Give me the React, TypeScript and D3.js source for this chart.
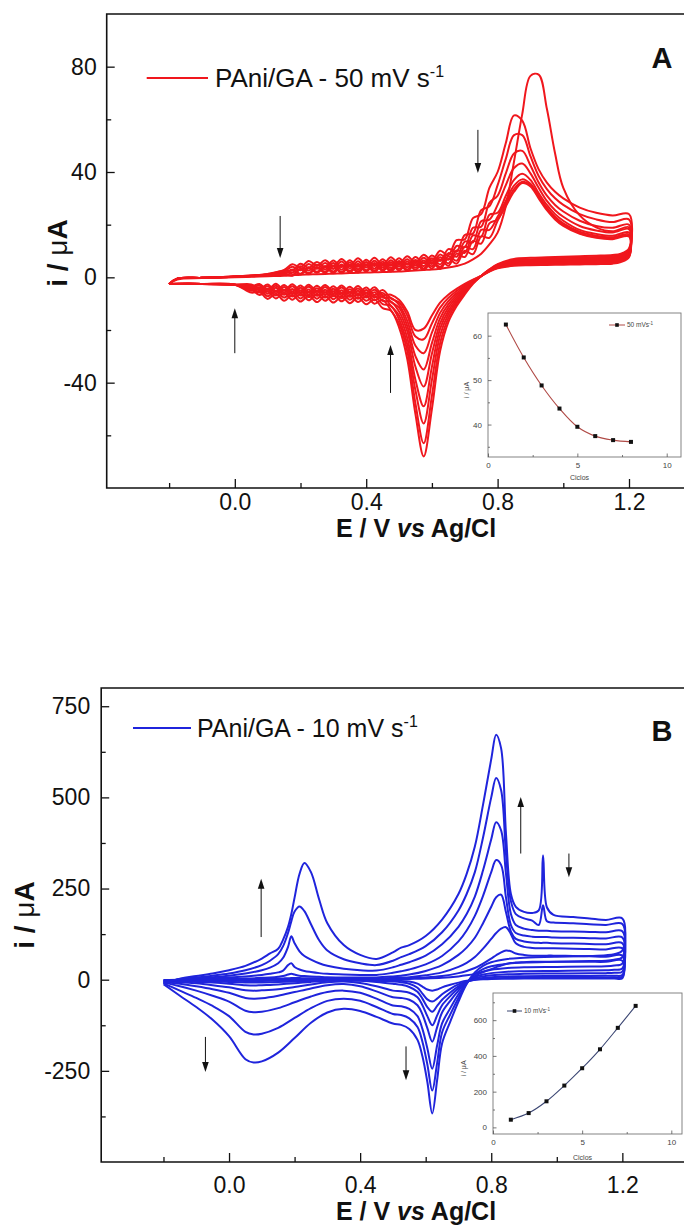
import React, { useEffect, useRef } from 'react'
import * as d3 from 'd3'

const FONT = "'Liberation Sans', Arial, Helvetica, sans-serif"
const RED = '#f0171d'
const BLUE = '#1f24dc'

// ---------------- Panel A : PAni/GA - 50 mV s-1 (9 cycles) ----------------
const potentialFwdA = [-0.2, -0.175, -0.1, 0.0, 0.05, 0.1, 0.15,
  0.175, 0.2, 0.225, 0.25, 0.275, 0.3, 0.325, 0.35, 0.375, 0.4, 0.425, 0.45, 0.475, 0.5, 0.525, 0.55, 0.575, 0.6, 0.625, 0.65, 0.675, 0.7, 0.725, 0.75, 0.775,
  0.8, 0.825, 0.85, 0.875, 0.9, 0.925, 0.95, 0.975, 1.0,
  1.05, 1.1, 1.15, 1.2]
const potentialRevA = [1.2, 1.175, 1.15, 1.1, 1.05, 1.0, 0.95, 0.9, 0.85, 0.8, 0.775, 0.75, 0.725, 0.7, 0.675, 0.65, 0.625, 0.6, 0.575, 0.55, 0.525, 0.5,
  0.475, 0.45, 0.425, 0.4, 0.375, 0.35, 0.325, 0.3, 0.275, 0.25, 0.225, 0.2, 0.175, 0.15, 0.125, 0.1, 0.075, 0.05,
  0.0, -0.1, -0.2]

const anodicA1 = [-2.5, -0.8, -0.3, 0.0, 0.2, 0.4, 0.6,
  0.8, 1.0, 1.1, 1.2, 1.3, 1.4, 1.5, 1.6, 1.7, 1.8, 1.9, 2.0, 2.1, 2.2, 2.4, 2.6, 2.8, 3.0, 3.3, 3.7, 4.3, 5.2, 6.8, 9.0, 12.5,
  17, 27, 44, 62, 76.5, 77, 64, 47, 34,
  23.5, 19, 17.5, 19]
const anodicA2 = [-2.5, -0.5, -0.2, 0.3, 0.7, 1.3, 2.8,
  5.0, 3.8, 6.2, 4.4, 6.5, 4.3, 7.0, 4.5, 7.2, 4.7, 7.4, 4.8, 7.6, 5.2, 8.0, 5.7, 8.6, 6.4, 10.1, 8.4, 14.1, 14.4, 22.5, 24, 34,
  40, 51, 61.5, 59.5, 49, 41, 36, 32.5, 30,
  26.5, 24.5, 23.5, 24]
const anodicA3 = [-2.5, -0.5, -0.2, 0.3, 0.7, 1.2, 2.5,
  2.6, 5.2, 3.6, 5.8, 3.9, 6.4, 3.9, 6.5, 4.0, 6.7, 4.3, 6.9, 4.4, 7.2, 4.8, 7.7, 5.4, 8.3, 6.2, 10.7, 9.8, 16.1, 16.6, 25.5, 27,
  35, 45, 54, 54, 46, 38.5, 33.5, 30, 27.5,
  24, 22, 21, 22]
const anodicA4 = [-2.5, -0.5, -0.2, 0.3, 0.6, 1.1, 2.2,
  4.0, 2.7, 5.1, 3.3, 5.4, 3.2, 6.0, 3.4, 6.1, 3.7, 6.3, 3.8, 6.5, 4.1, 6.9, 4.5, 7.4, 5.1, 8.7, 6.7, 11.9, 11.5, 18.8, 19.2, 28.3,
  31, 39.5, 47, 48, 42.5, 36, 31, 27.5, 25,
  21.5, 19.5, 18.8, 20]
const anodicA5 = [-2.5, -0.5, -0.2, 0.2, 0.6, 1.0, 1.9,
  1.7, 4.2, 2.6, 4.8, 3.0, 5.4, 2.9, 5.6, 3.1, 5.8, 3.3, 5.9, 3.5, 6.2, 3.8, 6.6, 4.3, 7.2, 4.9, 9.2, 7.8, 13.6, 13.3, 21.3, 21.9,
  27.5, 35, 41.5, 43.2, 39.5, 34, 29, 25.5, 23,
  19.5, 17.8, 17, 18.3]
const anodicA6 = [-2.5, -0.5, -0.2, 0.2, 0.5, 0.9, 1.5,
  3.0, 1.4, 3.8, 2.1, 4.3, 2.2, 4.9, 2.4, 5.2, 2.7, 5.4, 3.0, 5.7, 3.2, 6.0, 3.6, 6.4, 4.2, 7.6, 5.3, 10.2, 9.3, 15.9, 15.5, 23.8,
  24.5, 31, 37, 39.3, 37, 32, 27.5, 24, 21.5,
  18, 16.5, 15.8, 17]
const anodicA7 = [-2.5, -0.5, -0.2, 0.2, 0.5, 0.9, 1.4,
  0.8, 3.3, 1.6, 3.9, 2.1, 4.5, 2.0, 4.8, 2.3, 5.0, 2.5, 5.2, 2.8, 5.5, 3.0, 5.8, 3.4, 6.4, 3.9, 8.0, 6.3, 11.6, 10.7, 18, 18,
  23, 29, 34.8, 37.2, 35.5, 31, 26.5, 23, 20.5,
  17.3, 15.8, 15.2, 16.3]
const anodicA8 = [-2.5, -0.5, -0.2, 0.2, 0.5, 0.8, 1.3,
  2.7, 1.1, 3.5, 1.7, 3.9, 1.7, 4.4, 1.9, 4.6, 2.2, 4.9, 2.4, 5.1, 2.6, 5.3, 2.9, 5.7, 3.4, 6.8, 4.4, 9.0, 7.7, 13.8, 12.8, 20.5,
  22, 28, 33.5, 36.3, 35, 30.5, 26, 22.5, 20,
  16.8, 15.3, 14.8, 15.8]
const anodicA9 = [-2.5, -0.5, -0.2, 0.2, 0.4, 0.8, 1.2,
  0.6, 3.0, 1.3, 3.5, 1.7, 4.1, 1.6, 4.3, 1.8, 4.5, 2.0, 4.7, 2.2, 4.9, 2.4, 5.2, 2.8, 5.7, 3.2, 7.1, 5.2, 10.1, 8.8, 15.5, 15,
  21.5, 27, 32.5, 35.8, 34.5, 30, 25.5, 22, 19.5,
  16.5, 15, 14.5, 15.5]

const cathodicA1 = [11, 9, 8.5, 8.2, 8.0, 7.8, 7.6, 7.4, 7.0, 5.0, 3.0, 0.5, -2.5, -6.5, -11, -17, -28, -50, -68, -52, -31, -19,
  -12.6, -11.7, -8.3, -10.2, -7.6, -9.8, -7.3, -9.6, -7.1, -9.4, -6.9, -9.2, -6.7, -8.9, -6.2, -8.2, -5.5, -5.8,
  -2.8, -2.5, -2.5]
const cathodicA2 = [10.5, 8.5, 8.0, 7.7, 7.5, 7.3, 7.1, 6.9, 6.6, 4.8, 2.9, 0.5, -2.3, -6, -10, -15.5, -25, -45, -63, -48, -28, -17.5,
  -12.5, -8.6, -10.0, -7.2, -9.4, -6.8, -9.1, -6.6, -8.9, -6.4, -8.7, -6.2, -8.5, -5.9, -8.0, -5.3, -6.7, -4.5,
  -2.8, -2.5, -2.5]
const cathodicA3 = [10, 8.2, 7.6, 7.3, 7.1, 6.9, 6.7, 6.5, 6.2, 4.6, 2.8, 0.5, -2.1, -5.5, -9.2, -14, -22, -39, -55.5, -43, -25.5, -16,
  -10.8, -10.2, -7.0, -8.9, -6.3, -8.5, -6.0, -8.3, -5.8, -8.1, -5.7, -8.0, -5.5, -7.7, -5.1, -7.2, -4.6, -5.1,
  -2.8, -2.5, -2.5]
const cathodicA4 = [9.6, 7.8, 7.2, 6.9, 6.7, 6.5, 6.3, 6.2, 5.9, 4.4, 2.7, 0.5, -1.9, -5, -8.4, -12.8, -19.5, -34, -49, -39, -23, -14.5,
  -10.8, -7.1, -8.7, -5.9, -8.1, -5.6, -7.9, -5.4, -7.7, -5.2, -7.5, -5.0, -7.3, -4.7, -6.9, -4.3, -5.8, -3.8,
  -2.8, -2.5, -2.5]
const cathodicA5 = [9.2, 7.4, 6.8, 6.5, 6.3, 6.1, 6.0, 5.9, 5.6, 4.2, 2.6, 0.5, -1.7, -4.5, -7.6, -11.5, -17.5, -29, -41.5, -34, -20.5, -13,
  -9.2, -8.9, -5.7, -7.7, -5.1, -7.4, -4.9, -7.2, -4.7, -7.0, -4.6, -6.9, -4.4, -6.6, -4.0, -6.2, -3.8, -4.5,
  -2.8, -2.5, -2.5]
const cathodicA6 = [8.8, 7.0, 6.4, 6.1, 5.9, 5.8, 5.7, 5.6, 5.3, 4.0, 2.5, 0.5, -1.5, -4.0, -6.8, -10.3, -15.5, -25, -35, -30, -18.5, -11.5,
  -9.3, -5.9, -7.6, -4.8, -7.0, -4.5, -6.8, -4.3, -6.6, -4.1, -6.5, -4.0, -6.3, -3.7, -6.0, -3.4, -5.0, -3.2,
  -2.8, -2.5, -2.5]
const cathodicA7 = [8.4, 6.6, 6.0, 5.8, 5.6, 5.5, 5.4, 5.3, 5.0, 3.8, 2.4, 0.5, -1.3, -3.5, -6.0, -9.0, -13.5, -21, -28.8, -26, -16.5, -10.5,
  -7.8, -7.7, -4.7, -6.8, -4.2, -6.4, -3.9, -6.2, -3.7, -6.0, -3.6, -5.9, -3.4, -5.7, -3.2, -5.4, -3.1, -4.0,
  -2.8, -2.5, -2.5]
const cathodicA8 = [8.0, 6.2, 5.6, 5.4, 5.3, 5.2, 5.1, 5.0, 4.7, 3.6, 2.3, 0.5, -1.1, -3.0, -5.2, -7.8, -11.5, -17.5, -23.5, -22.5, -14.5, -9.5,
  -8.0, -4.8, -6.7, -3.9, -6.1, -3.6, -5.9, -3.4, -5.7, -3.2, -5.6, -3.1, -5.4, -2.9, -5.2, -2.7, -4.4, -2.7,
  -2.8, -2.5, -2.5]
const cathodicA9 = [7.6, 5.8, 5.2, 5.0, 4.9, 4.8, 4.7, 4.6, 4.4, 3.4, 2.2, 0.5, -0.9, -2.5, -4.4, -6.6, -9.6, -14.5, -19.5, -20, -13, -8.5,
  -6.6, -6.7, -3.8, -5.9, -3.3, -5.6, -3.1, -5.4, -2.9, -5.2, -2.8, -5.1, -2.6, -4.9, -2.4, -4.7, -2.5, -3.5,
  -2.8, -2.5, -2.5]

const insetCyclesA = [1, 2, 3, 4, 5, 6, 7, 8]
const insetCurrentA = [62.5, 55.1, 48.8, 43.6, 39.5, 37.4, 36.5, 36.1]

// ---------------- Panel B : PAni/GA - 10 mV s-1 (8 cycles) ----------------
const potentialFwdB = [-0.2, -0.15, -0.1, -0.05, 0.0, 0.05, 0.1, 0.125, 0.15, 0.165, 0.18, 0.19, 0.2, 0.215, 0.23, 0.25, 0.275, 0.3,
  0.35, 0.4, 0.45, 0.5, 0.525, 0.55, 0.6, 0.65, 0.7, 0.725, 0.75, 0.775, 0.8, 0.815, 0.83, 0.845, 0.86, 0.875, 0.9, 0.925,
  0.945, 0.958, 0.97, 0.99, 1.05, 1.1, 1.15, 1.2]
const potentialRevB = [1.2, 1.175, 1.15, 1.1, 1.0, 0.9, 0.85, 0.8, 0.775, 0.75, 0.725, 0.7, 0.675, 0.65, 0.635, 0.62, 0.605, 0.59,
  0.575, 0.55, 0.525, 0.5, 0.45, 0.4, 0.35, 0.3, 0.25, 0.2, 0.15, 0.1, 0.075, 0.05, 0.0, -0.05, -0.1, -0.15, -0.2]

const anodicB1 = [-1, 0, 0, 0, 0, 0.5, 0.5, 0.5, 0.5, 1, 1, 1, 1, 1, 1, 1, 1, 1,
  1, 1, 1, 1.5, 1.5, 2, 3, 5, 9, 12, 16, 22, 29, 34, 39, 43, 46, 47, 48, 49,
  49, 49, 49, 49, 49, 49, 49, 52]
const anodicB2 = [-2, -0.5, 0, 0, 0.5, 1, 1, 1.5, 1.5, 2, 2, 2, 2, 2, 2, 2, 2, 2,
  2, 2, 2, 3, 3.5, 4, 6, 10, 18, 24, 32, 44, 58, 67, 75, 80, 78, 72, 68, 66,
  66, 66, 66, 66, 65, 64, 63, 66]
const anodicB3 = [-3, -1, -0.5, 0, 1, 1.5, 2, 2.5, 3, 3.5, 4, 4.5, 4.5, 4.5, 4, 4, 4, 3.5,
  3.5, 3.5, 3.5, 5, 6, 7, 12, 20, 35, 46, 62, 85, 112, 128, 140, 144, 125, 100, 90, 87,
  86, 86, 86, 86, 85, 84, 83, 86]
const anodicB4 = [-4, -1, 0, 1, 2, 3, 5, 6, 8, 10, 14, 16, 14, 11, 10, 9, 8, 7,
  6, 6, 6, 9, 11, 14, 24, 40, 68, 88, 115, 155, 200, 226, 233, 185, 132, 112, 105, 102,
  101, 101, 101, 100, 99, 98, 97, 100]
const anodicB5 = [-6, 0, 2, 4, 6, 9, 13, 16, 20, 25, 40, 45, 35, 28, 24, 21, 18, 16,
  14, 13, 13, 19, 23, 28, 42, 65, 105, 135, 175, 230, 295, 328, 315, 225, 150, 128, 121, 118,
  117, 117, 117, 116, 115, 114, 113, 116]
const anodicB6 = [-8, 1, 4, 7, 11, 17, 26, 33, 45, 60, 90, 119, 100, 78, 65, 55, 45, 38,
  30, 26, 25, 34, 41, 48, 66, 97, 145, 180, 228, 300, 385, 432, 410, 290, 180, 150, 140, 136,
  134, 134, 134, 133, 132, 131, 130, 133]
const anodicB7 = [-10, 2, 6, 11, 17, 26, 40, 52, 70, 92, 128, 160, 187, 201, 188, 152, 108, 80,
  56, 45, 40, 52, 62, 70, 92, 130, 190, 235, 295, 390, 500, 553, 520, 345, 215, 180, 168, 162,
  150, 204, 160, 157, 155, 152, 150, 153]
const anodicB8 = [-12, 3, 10, 17, 26, 38, 58, 72, 85, 110, 145, 180, 225, 290, 320, 295, 220, 155,
  95, 68, 57, 75, 88, 95, 120, 165, 235, 290, 365, 480, 605, 672, 635, 400, 235, 200, 186, 183,
  190, 341, 198, 178, 172, 168, 164, 168]

const cathodicB1 = [4, 3, 3, 3, 3, 3, 2.5, 2, 1, -0.5, -3, -8, -14, -21, -27, -30, -27, -19,
  -11, -5, -3, -2, -1.5, -1, -1, -1, -1.5, -2.5, -3, -3.5, -4, -3.5, -3, -2.5, -2, -1.5, -1]
const cathodicB2 = [8, 6.5, 6, 6, 6, 5.5, 5, 4, 2.5, 0, -5, -13, -25, -40, -52, -60, -54, -38,
  -22, -11, -7, -5, -3, -2, -1.5, -2, -3, -5, -6.5, -7.5, -8, -7.5, -6, -4.5, -3.5, -2.5, -2]
const cathodicB3 = [13, 11, 10.5, 10, 10, 9.5, 9, 7, 5, 1, -6, -18, -35, -55, -72, -88, -75, -52,
  -33, -20, -14, -11, -6, -3, -2, -3, -6, -10, -13, -15, -16, -15, -11, -8, -6, -4, -3]
const cathodicB4 = [22, 19, 18, 17.5, 17, 16, 15, 12, 9, 4, -6, -23, -45, -70, -98, -125, -100, -70,
  -48, -36, -32, -30, -18, -9, -5, -7, -13, -20, -26, -29, -30, -29, -21, -15, -10, -7, -4]
const cathodicB5 = [31, 27, 26, 25, 24, 23, 22, 18, 14, 7, -6, -30, -58, -90, -130, -170, -133, -95,
  -70, -55, -50, -48, -32, -18, -12, -15, -24, -34, -44, -51, -52, -50, -36, -26, -18, -11, -6]
const cathodicB6 = [44, 39, 37, 36, 35, 34, 32, 27, 21, 10, -8, -40, -78, -120, -180, -244, -188, -135,
  -100, -80, -73, -71, -52, -36, -30, -34, -46, -62, -78, -88, -89, -85, -60, -44, -30, -18, -8]
const cathodicB7 = [62, 55, 52, 51, 49, 47, 44, 37, 29, 15, -10, -50, -95, -145, -228, -304, -232, -170,
  -130, -106, -97, -94, -75, -58, -52, -58, -78, -105, -132, -148, -150, -143, -100, -72, -50, -30, -10]
const cathodicB8 = [80, 70, 67, 65, 63, 60, 57, 48, 38, 20, -12, -60, -115, -175, -275, -367, -280, -210,
  -165, -135, -124, -120, -102, -86, -80, -90, -118, -160, -200, -224, -227, -218, -155, -110, -75, -44, -12]

const insetCyclesB = [1, 2, 3, 4, 5, 6, 7, 8]
const insetCurrentB = [43, 80, 146, 234, 331, 437, 557, 680]

// ---------------- ticks ----------------
const potentialTicks = [0, 0.4, 0.8, 1.2]
const potentialMinorTicks = [-0.2, 0.2, 0.6, 1.0]
const currentTicksA = [-40, 0, 40, 80]
const currentMinorTicksA = [-60, -20, 20, 60]
const currentTicksB = [-250, 0, 250, 500, 750]
const currentMinorTicksB = [-375, -125, 125, 375, 625]
const cycleTicks = [0, 5, 10]
const cycleMinorTicks = [2.5, 7.5]
const insetTicksA = [40, 50, 60]
const insetMinorTicksA = [35, 45, 55]
const insetTicksB = [0, 200, 400, 600]
const insetMinorTicksB = [100, 300, 500, 700]

// arrows: [E, from i, to i]
const arrowsA = [[0.74, 56, 39.6], [0.138, 23.3, 7.3], [0.0, -28.8, -11.7], [0.474, -43.9, -25.7]]
const arrowsB = [[0.098, 117, 277], [0.89, 346, 501], [1.037, 346, 281], [-0.072, -157, -253], [0.54, -183, -276]]

const panelA = {
  left: 106.7, right: 694.7, top: 14, bottom: 488,
  xDomain: [-0.39, 1.4], yDomain: [-80, 100],
  fwd: potentialFwdA, rev: potentialRevA,
  anodic: [anodicA1, anodicA2, anodicA3, anodicA4, anodicA5, anodicA6, anodicA7, anodicA8, anodicA9],
  cathodic: [cathodicA1, cathodicA2, cathodicA3, cathodicA4, cathodicA5, cathodicA6, cathodicA7, cathodicA8, cathodicA9],
  color: RED, yTicks: currentTicksA, yMinor: currentMinorTicksA, yPad: 10, xPad: 6,
  legend: { y: 78, x1: 146.7, x2: 208, tx: 215, text: 'PAni/GA - 50 mV s', size: 26 },
  letter: { text: 'A', x: 662, y: 68 },
  yTitle: { x: 57, y: 253 }, xTitle: { x: 416, y: 537 },
  arrows: arrowsA,
  inset: {
    left: 488, right: 681, top: 313, bottom: 457, xDomain: [0, 10.8], yDomain: [32.7, 65.1],
    xs: insetCyclesA, ys: insetCurrentA, yTicks: insetTicksA, yMinor: insetMinorTicksA,
    color: '#b04a46', legend: { x1: 609, x2: 625, y: 325, text: '50 mVs' },
    yTitleX: 469, cyclosY: 479.5
  }
}

const panelB = {
  left: 101.2, right: 687.9, top: 688, bottom: 1162,
  xDomain: [-0.39, 1.4], yDomain: [-500, 800],
  fwd: potentialFwdB, rev: potentialRevB,
  anodic: [anodicB1, anodicB2, anodicB3, anodicB4, anodicB5, anodicB6, anodicB7, anodicB8],
  cathodic: [cathodicB1, cathodicB2, cathodicB3, cathodicB4, cathodicB5, cathodicB6, cathodicB7, cathodicB8],
  color: BLUE, yTicks: currentTicksB, yMinor: currentMinorTicksB, yPad: 11, xPad: 15,
  legend: { y: 728, x1: 133, x2: 191, tx: 197, text: 'PAni/GA - 10 mV s', size: 25 },
  letter: { text: 'B', x: 662, y: 741 },
  yTitle: { x: 24, y: 915 }, xTitle: { x: 416, y: 1220 },
  arrows: arrowsB,
  inset: {
    left: 493, right: 682, top: 993, bottom: 1134, xDomain: [0, 10.6], yDomain: [-37, 752],
    xs: insetCyclesB, ys: insetCurrentB, yTicks: insetTicksB, yMinor: insetMinorTicksB,
    color: '#3b4673', legend: { x1: 507, x2: 522, y: 1011, text: '10 mVs' },
    yTitleX: 466, cyclosY: 1160
  }
}

function styleAxis(sel, size) {
  sel.select('.domain').remove()
  sel.selectAll('line').attr('stroke', '#111').attr('stroke-width', 1.3)
  sel.selectAll('text').attr('font-family', FONT).attr('font-size', size).attr('fill', '#111')
}

function drawInset(g, s) {
  const x = d3.scaleLinear().domain(s.xDomain).range([s.left, s.right])
  const y = d3.scaleLinear().domain(s.yDomain).range([s.bottom, s.top])
  g.append('rect').attr('x', s.left).attr('y', s.top).attr('width', s.right - s.left).attr('height', s.bottom - s.top)
    .attr('fill', 'white').attr('stroke', '#777').attr('stroke-width', 0.9)

  const bx = g.append('g').attr('transform', `translate(0,${s.bottom})`)
  bx.call(d3.axisBottom(x).tickValues(cycleMinorTicks).tickSize(-2).tickFormat(() => ''))
  styleAxis(bx, 8)
  const bx2 = g.append('g').attr('transform', `translate(0,${s.bottom})`)
  bx2.call(d3.axisBottom(x).tickValues(cycleTicks).tickSize(-3.5).tickPadding(5).tickFormat(d => String(d)))
  styleAxis(bx2, 8)
  const ly = g.append('g').attr('transform', `translate(${s.left},0)`)
  ly.call(d3.axisLeft(y).tickValues(s.yMinor).tickSize(-2).tickFormat(() => ''))
  styleAxis(ly, 8)
  const ly2 = g.append('g').attr('transform', `translate(${s.left},0)`)
  ly2.call(d3.axisLeft(y).tickValues(s.yTicks).tickSize(-3.5).tickPadding(6).tickFormat(d => String(d)))
  styleAxis(ly2, 8)
  g.selectAll('line').attr('stroke-width', 0.8).attr('stroke', '#555')
  g.selectAll('text').attr('fill', '#444')

  const pts = s.xs.map((c, k) => [c, s.ys[k]])
  const line = d3.line().x(d => x(d[0])).y(d => y(d[1])).curve(d3.curveCatmullRom)
  g.append('path').attr('d', line(pts)).attr('fill', 'none').attr('stroke', s.color).attr('stroke-width', 1.1)
  g.selectAll('.mk').data(pts).join('rect').attr('class', 'mk')
    .attr('x', d => x(d[0]) - 2).attr('y', d => y(d[1]) - 2).attr('width', 4).attr('height', 4).attr('fill', '#111')

  // legend
  g.append('line').attr('x1', s.legend.x1).attr('x2', s.legend.x2).attr('y1', s.legend.y).attr('y2', s.legend.y)
    .attr('stroke', s.color).attr('stroke-width', 1)
  g.append('rect').attr('x', (s.legend.x1 + s.legend.x2) / 2 - 1.8).attr('y', s.legend.y - 1.8).attr('width', 3.6).attr('height', 3.6).attr('fill', '#111')
  const lt = g.append('text').attr('x', s.legend.x2 + 2).attr('y', s.legend.y + 2.3)
    .attr('font-family', FONT).attr('font-size', 6.5).attr('fill', '#444').text(s.legend.text)
  lt.append('tspan').attr('dy', -2.5).attr('font-size', 4.5).text('-1')

  g.append('text').attr('x', (s.left + s.right) / 2 - 5).attr('y', s.cyclosY).attr('text-anchor', 'middle')
    .attr('font-family', FONT).attr('font-size', 7).attr('fill', '#444').text('Ciclos')
  g.append('text').attr('transform', `translate(${s.yTitleX},${(s.top + s.bottom) / 2 + 5}) rotate(-90)`)
    .attr('text-anchor', 'middle').attr('font-family', FONT).attr('font-size', 7).attr('fill', '#444').text('i / μA')
}

function drawPanel(svg, p) {
  const g = svg.append('g')
  const x = d3.scaleLinear().domain(p.xDomain).range([p.left, p.right])
  const y = d3.scaleLinear().domain(p.yDomain).range([p.bottom, p.top])

  // CV cycles: forward (anodic) sweep followed by the reverse (cathodic) sweep
  const line = d3.line().x(d => x(d[0])).y(d => y(d[1])).curve(d3.curveCatmullRom.alpha(0.5))
  p.anodic.forEach((an, k) => {
    const pts = an.map((v, j) => [p.fwd[j], v]).concat(p.cathodic[k].map((v, j) => [p.rev[j], v]))
    g.append('path').attr('d', line(pts)).attr('fill', 'none').attr('stroke', p.color)
      .attr('stroke-width', 2).attr('stroke-linejoin', 'round')
  })

  // frame (the right edge falls outside the picture)
  g.append('path').attr('d', `M${p.right},${p.top}H${p.left}V${p.bottom}H${p.right}`)
    .attr('fill', 'none').attr('stroke', '#111').attr('stroke-width', 1.6)

  // axes
  const xm = g.append('g').attr('transform', `translate(0,${p.bottom})`)
  xm.call(d3.axisBottom(x).tickValues(potentialMinorTicks).tickSize(-5).tickFormat(() => ''))
  styleAxis(xm, 23)
  const xM = g.append('g').attr('transform', `translate(0,${p.bottom})`)
  xM.call(d3.axisBottom(x).tickValues(potentialTicks).tickSize(-9).tickPadding(p.xPad).tickFormat(d => d.toFixed(1)))
  styleAxis(xM, 23)
  const ym = g.append('g').attr('transform', `translate(${p.left},0)`)
  ym.call(d3.axisLeft(y).tickValues(p.yMinor).tickSize(-4.5).tickFormat(() => ''))
  styleAxis(ym, 23)
  const yM = g.append('g').attr('transform', `translate(${p.left},0)`)
  yM.call(d3.axisLeft(y).tickValues(p.yTicks).tickSize(-8).tickPadding(p.yPad).tickFormat(d => String(d)))
  styleAxis(yM, 23)

  // axis titles
  const xt = g.append('text').attr('x', p.xTitle.x).attr('y', p.xTitle.y).attr('text-anchor', 'middle')
    .attr('font-family', FONT).attr('font-size', 25).attr('font-weight', 'bold').attr('fill', '#111')
  xt.append('tspan').text('E / V ')
  xt.append('tspan').attr('font-style', 'italic').text('vs')
  xt.append('tspan').text(' Ag/Cl')
  const yt = g.append('text').attr('transform', `translate(${p.yTitle.x},${p.yTitle.y}) rotate(-90)`)
    .attr('text-anchor', 'middle').attr('dy', '0.35em')
    .attr('font-family', FONT).attr('font-size', 28).attr('font-weight', 'bold').attr('fill', '#111')
  yt.append('tspan').text('i / ')
  yt.append('tspan').attr('font-weight', 'normal').text('μ')
  yt.append('tspan').text('A')

  // legend
  g.append('line').attr('x1', p.legend.x1).attr('x2', p.legend.x2).attr('y1', p.legend.y).attr('y2', p.legend.y)
    .attr('stroke', p.color).attr('stroke-width', 2)
  const lt = g.append('text').attr('x', p.legend.tx).attr('y', p.legend.y + 9)
    .attr('font-family', FONT).attr('font-size', p.legend.size).attr('fill', '#111').text(p.legend.text)
  lt.append('tspan').attr('dy', -10).attr('font-size', 16).text('-1')

  g.append('text').attr('x', p.letter.x).attr('y', p.letter.y).attr('text-anchor', 'middle')
    .attr('font-family', FONT).attr('font-size', 29).attr('font-weight', 'bold').attr('fill', '#111').text(p.letter.text)

  // arrows
  g.append('g').selectAll('g').data(p.arrows).join('g').each(function (a) {
    const ax = x(a[0]), y0 = y(a[1]), y1 = y(a[2])
    const dir = y1 > y0 ? 1 : -1
    const s = d3.select(this)
    s.append('line').attr('x1', ax).attr('x2', ax).attr('y1', y0).attr('y2', y1 - dir * 7)
      .attr('stroke', '#111').attr('stroke-width', 1)
    s.append('path').attr('d', `M${ax},${y1}L${ax - 3.3},${y1 - dir * 10}L${ax + 3.3},${y1 - dir * 10}Z`).attr('fill', '#111')
  })

  drawInset(g.append('g'), p.inset)
}

export default function App() {
  const ref = useRef(null)
  useEffect(() => {
    const svg = d3.select(ref.current)
    svg.selectAll('*').remove()
    drawPanel(svg, panelA)
    drawPanel(svg, panelB)
  }, [])
  return (
    <svg ref={ref} width={684} height={1230}
      style={{ position: 'absolute', left: 0, top: 0, background: '#fff' }} />
  )
}
